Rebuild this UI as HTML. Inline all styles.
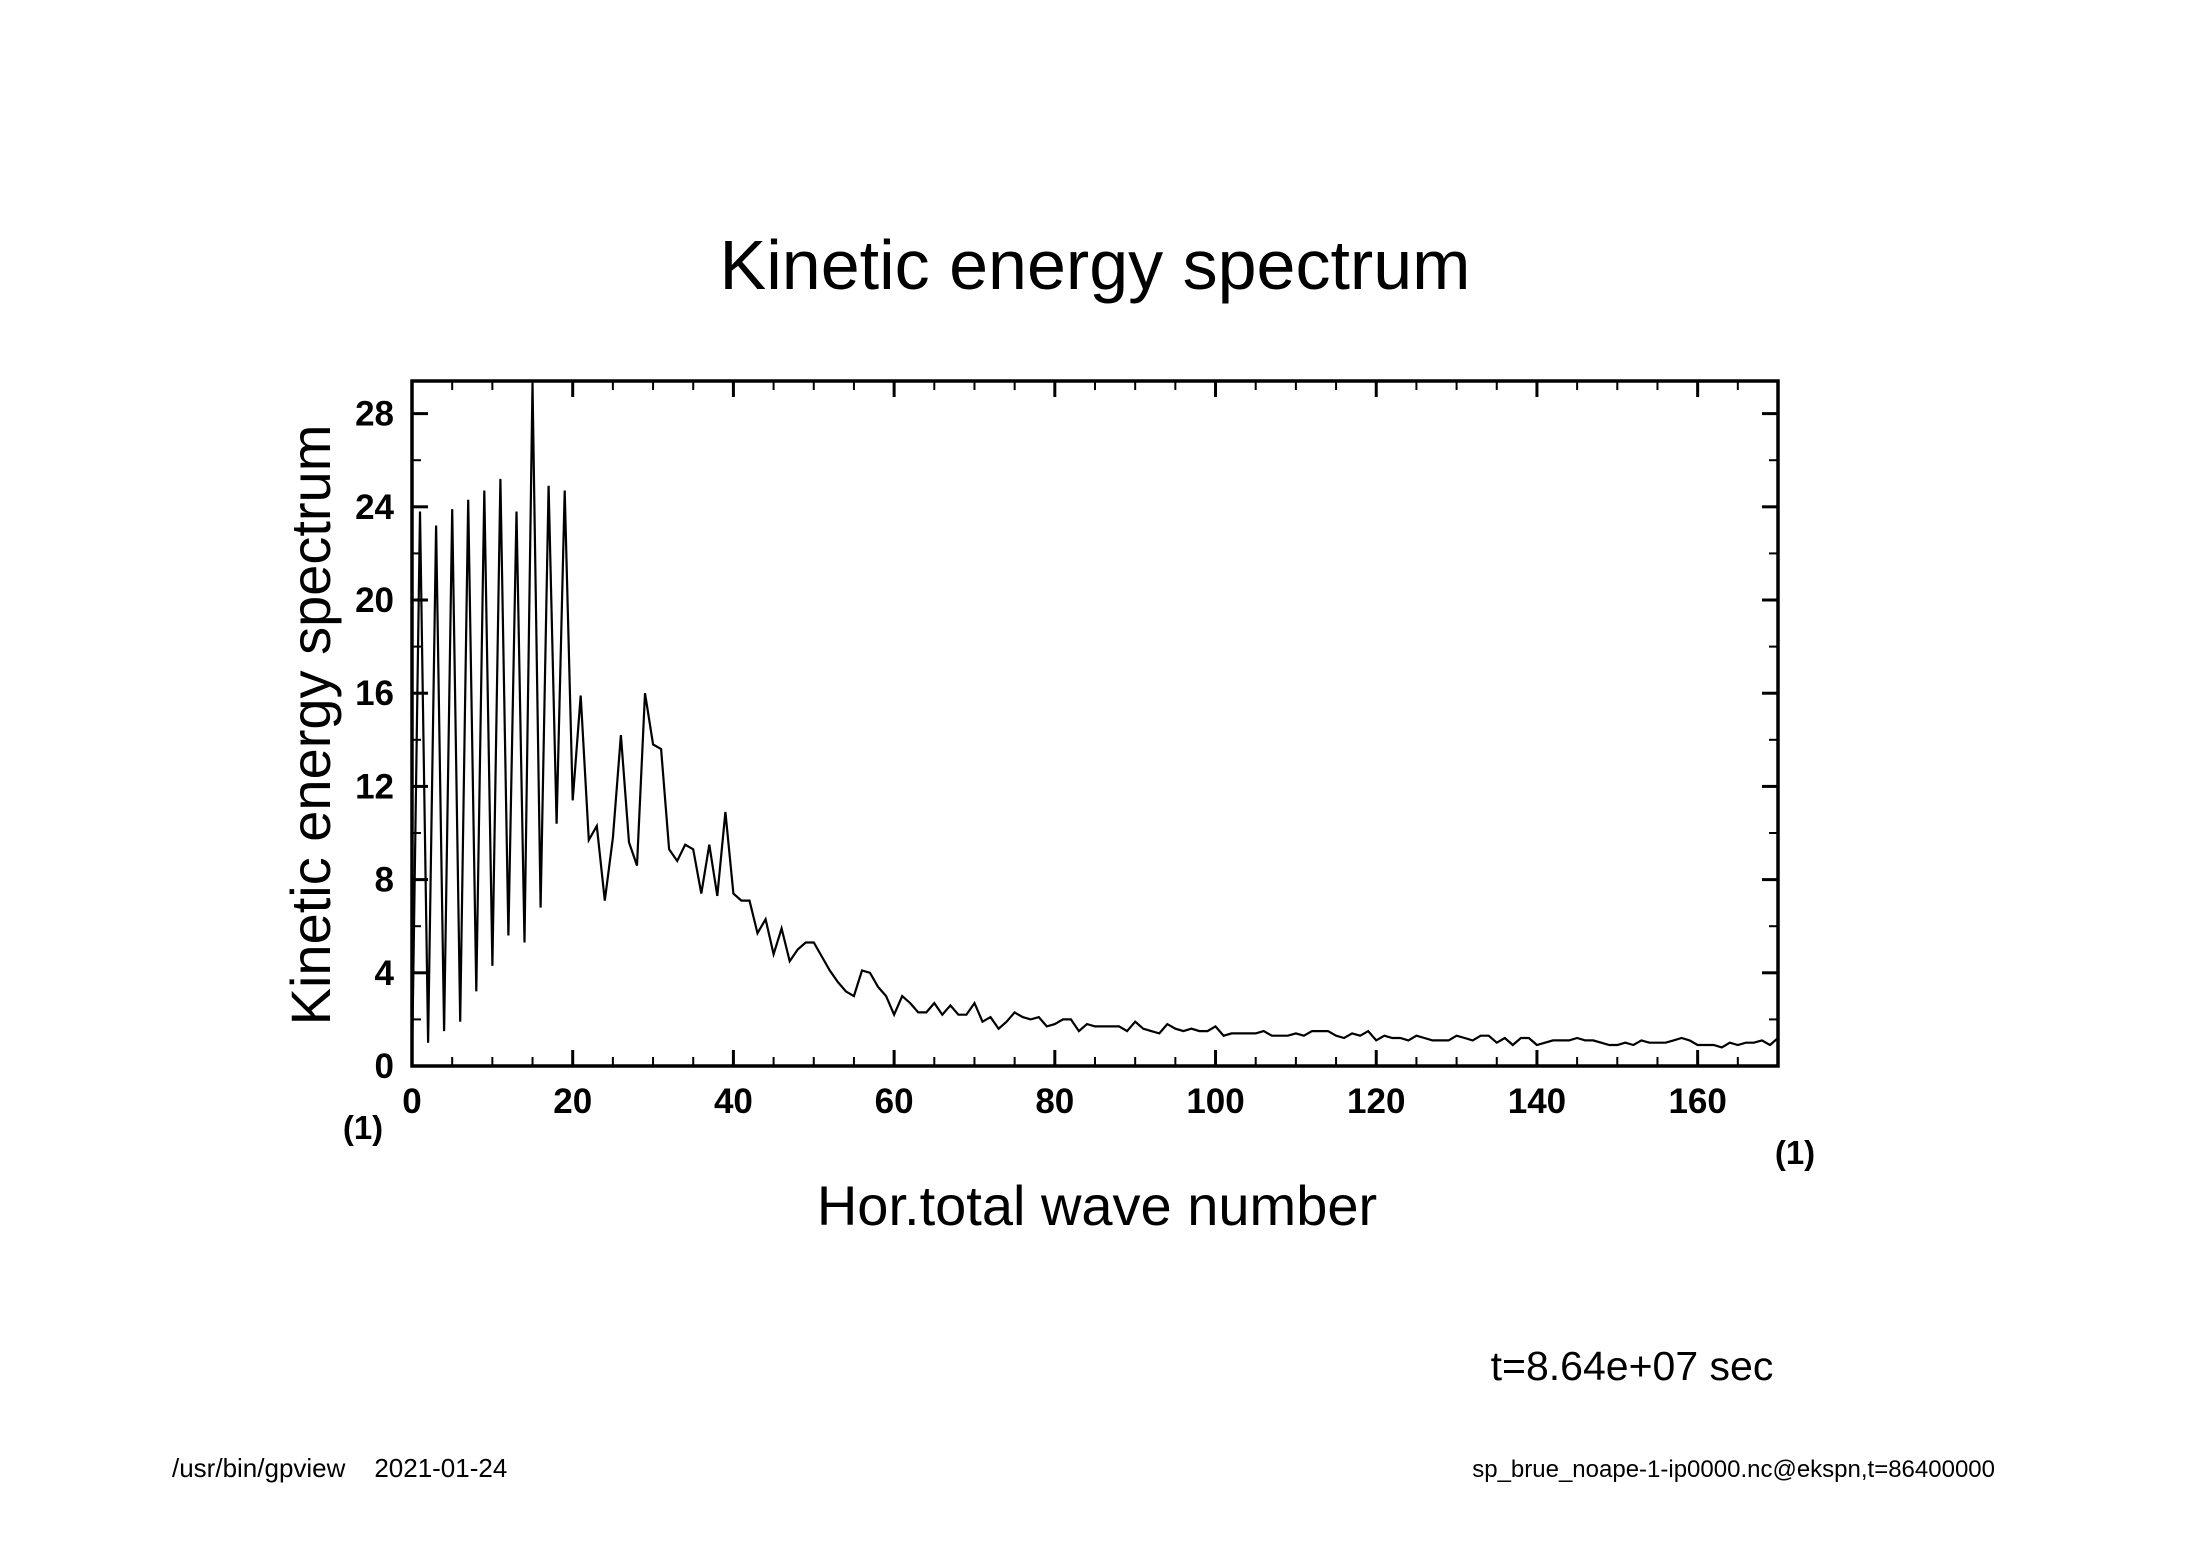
<!DOCTYPE html>
<html><head><meta charset="utf-8"><style>
html,body{margin:0;padding:0;background:#fff;}
svg{display:block;font-family:"Liberation Sans","DejaVu Sans",sans-serif;}
</style></head><body>
<svg id="chart" width="2188" height="1546" viewBox="0 0 2188 1546" xmlns="http://www.w3.org/2000/svg">
<rect width="2188" height="1546" fill="#fff"/>
<text x="1095" y="289" font-size="70" text-anchor="middle" fill="#000">Kinetic energy spectrum</text>
<g id="plot"></g>
<text x="1097" y="1225" font-size="56" text-anchor="middle">Hor.total wave number</text>
<text x="0" y="0" font-size="56" text-anchor="middle" transform="translate(330,725) rotate(-90)">Kinetic energy spectrum</text>
<text x="363" y="1139" font-size="33" font-weight="bold" text-anchor="middle">(1)</text>
<text x="1795" y="1164" font-size="33" font-weight="bold" text-anchor="middle">(1)</text>
<text x="1632" y="1380" font-size="41" text-anchor="middle">t=8.64e+07 sec</text>
<text x="172" y="1477" font-size="26" xml:space="preserve">/usr/bin/gpview    2021-01-24</text>
<text x="1995" y="1477" font-size="24" text-anchor="end">sp_brue_noape-1-ip0000.nc@ekspn,t=86400000</text>
</svg>
<script>
const waveNumbers = [];
for (let i = 0; i <= 170; i++) waveNumbers.push(i);
const energy = [0,23.8,1.0,23.2,1.5,23.9,1.9,24.3,3.2,24.7,4.3,25.2,5.6,23.8,5.3,29.3,6.8,24.9,10.4,24.7,11.4,15.9,9.7,10.3,7.1,9.8,14.2,9.6,8.6,16.0,13.8,13.6,9.3,8.8,9.5,9.3,7.4,9.5,7.3,10.9,7.4,7.1,7.1,5.7,6.3,4.8,5.9,4.5,5.0,5.3,5.3,4.7,4.1,3.6,3.2,3.0,4.1,4.0,3.4,3.0,2.2,3.0,2.7,2.3,2.3,2.7,2.2,2.6,2.2,2.2,2.7,1.9,2.1,1.6,1.9,2.3,2.1,2.0,2.1,1.7,1.8,2.0,2.0,1.5,1.8,1.7,1.7,1.7,1.7,1.5,1.9,1.6,1.5,1.4,1.8,1.6,1.5,1.6,1.5,1.5,1.7,1.3,1.4,1.4,1.4,1.4,1.5,1.3,1.3,1.3,1.4,1.3,1.5,1.5,1.5,1.3,1.2,1.4,1.3,1.5,1.1,1.3,1.2,1.2,1.1,1.3,1.2,1.1,1.1,1.1,1.3,1.2,1.1,1.3,1.3,1.0,1.2,0.9,1.2,1.2,0.9,1.0,1.1,1.1,1.1,1.2,1.1,1.1,1.0,0.9,0.9,1.0,0.9,1.1,1.0,1.0,1.0,1.1,1.2,1.1,0.9,0.9,0.9,0.8,1.0,0.9,1.0,1.0,1.1,0.9,1.2];
const xTicks = [0,20,40,60,80,100,120,140,160];
const yTicks = [0,4,8,12,16,20,24,28];

const L=412,R=1778,T=381,B=1066,XMAX=170,YMAX=29.4;
const sx=v=>L+(v/XMAX)*(R-L);
const sy=v=>B-(v/YMAX)*(B-T);
const NS="http://www.w3.org/2000/svg";
const g=document.getElementById('plot');
function mk(tag,attrs){const e=document.createElementNS(NS,tag);for(const k in attrs)e.setAttribute(k,attrs[k]);g.appendChild(e);return e;}

const clip=mk('clipPath',{id:'pc'});
const cr=document.createElementNS(NS,'rect');cr.setAttribute('x',L);cr.setAttribute('y',T);cr.setAttribute('width',R-L);cr.setAttribute('height',B-T);clip.appendChild(cr);

let d='';
waveNumbers.forEach((x,i)=>{d+=(i?'L':'M')+sx(x).toFixed(1)+','+sy(energy[i]).toFixed(1);});
const line=mk('path',{d:d,fill:'none',stroke:'#000','stroke-width':2.2,'stroke-linejoin':'miter','clip-path':'url(#pc)'});



for(let v=0;v<=XMAX;v+=5){
  const major=v%20===0, len=major?16:9, x=sx(v);
  const t1=mk('line',{x1:x,y1:B,x2:x,y2:B-len,stroke:'#000','stroke-width':major?3:2});
  
  
  const t2=mk('line',{x1:x,y1:T,x2:x,y2:T+len,stroke:'#000','stroke-width':major?3:2});
  
  
}
for(let v=0;v<=YMAX;v+=2){
  const major=v%4===0, len=major?16:9, y=sy(v);
  const t1=mk('line',{x1:L,y1:y,x2:L+len,y2:y,stroke:'#000','stroke-width':major?3:2});
  
  
  const t2=mk('line',{x1:R,y1:y,x2:R-len,y2:y,stroke:'#000','stroke-width':major?3:2});
  
  
}
xTicks.forEach(v=>{
  const t=mk('text',{x:sx(v),y:B+47,'font-size':35,'font-weight':'bold','text-anchor':'middle'});
  t.textContent=v;
  
  
});
yTicks.forEach(v=>{
  const t=mk('text',{x:L-18,y:sy(v)+12,'font-size':35,'font-weight':'bold','text-anchor':'end'});
  t.textContent=v;
  
  
});
const frame=mk('rect',{x:L,y:T,width:R-L,height:B-T,fill:'none',stroke:'#000','stroke-width':3.5});


</script>
</body></html>
